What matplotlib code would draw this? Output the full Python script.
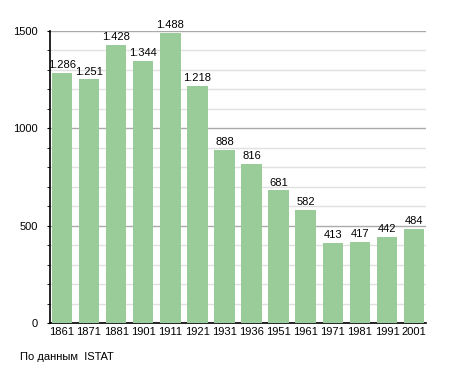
import numpy as np
import matplotlib.pyplot as plt
from matplotlib.ticker import MultipleLocator

plt.rcParams['font.family'] = ['Liberation Sans', 'DejaVu Sans']

years = ['1861', '1871', '1881', '1901', '1911', '1921', '1931', '1936',
         '1951', '1961', '1971', '1981', '1991', '2001']
population = [1286, 1251, 1428, 1344, 1488, 1218, 888, 816, 681, 582, 413, 417, 442, 484]

fig = plt.figure(figsize=(4.55, 3.73), dpi=100)
ax = fig.add_axes([50/455, 50/373, 376/455, 292/373])

x = np.arange(len(years))
ax.bar(x, population, width=0.76, color='#99cc99', zorder=3)
for xi, v in zip(x, population):
    lbl = '{:,}'.format(v).replace(',', '.')
    ax.text(xi, v + 15, lbl, ha='center', va='bottom', fontsize=8, zorder=4)

ax.set_xlim(-0.44, len(years) - 0.56)
ax.set_ylim(0, 1500)
ax.set_xticks(x)
ax.set_xticklabels(years, fontsize=8)
ax.yaxis.set_major_locator(MultipleLocator(500))
ax.yaxis.set_minor_locator(MultipleLocator(100))
ax.tick_params(axis='y', which='major', labelsize=8, length=2.5, pad=6.5)
ax.tick_params(axis='y', which='minor', length=2.5)
ax.tick_params(axis='x', length=0, pad=3)
ax.grid(axis='y', which='major', color='#aaaaaa', lw=1, zorder=0)
ax.grid(axis='y', which='minor', color='#e0e0e0', lw=1, zorder=0)
for s in ['top', 'right']:
    ax.spines[s].set_visible(False)
ax.spines['left'].set_linewidth(1.2)
ax.spines['bottom'].set_linewidth(1.2)

fig.text(20/455, 1 - 357/373, 'По данным  ISTAT', fontsize=8, va='center')

fig.savefig('out.png', dpi=100)
